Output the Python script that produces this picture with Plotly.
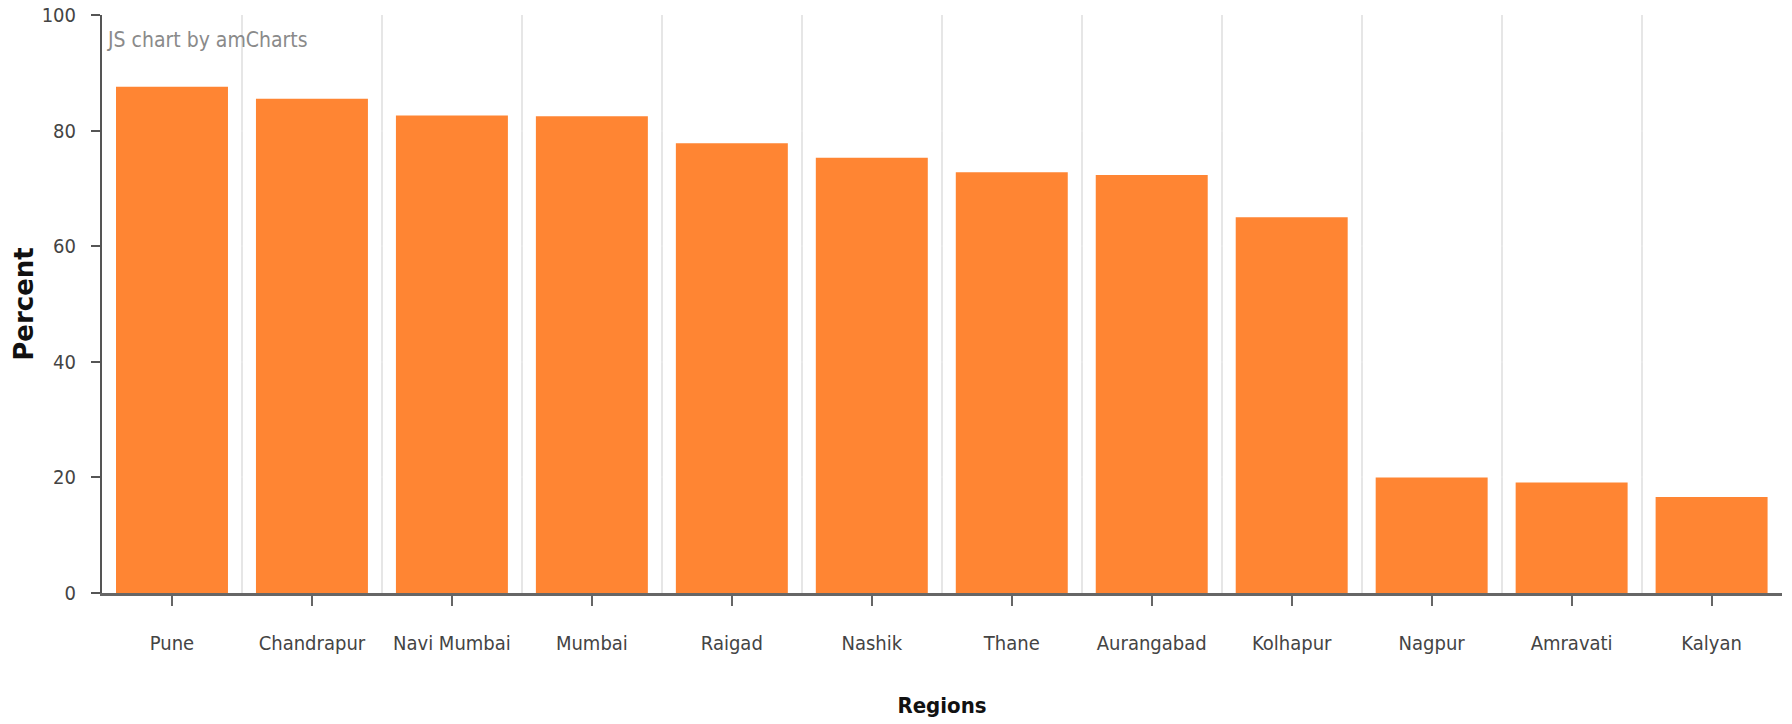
import plotly.graph_objects as go

regions = ["Pune", "Chandrapur", "Navi Mumbai", "Mumbai", "Raigad", "Nashik",
           "Thane", "Aurangabad", "Kolhapur", "Nagpur", "Amravati", "Kalyan"]
percent = [87.6, 85.5, 82.6, 82.5, 77.8, 75.3, 72.8, 72.3, 65.0, 20.0, 19.1, 16.6]
y_ticks = [0, 20, 40, 60, 80, 100]

idx = list(range(len(regions)))

fig = go.Figure()
fig.add_trace(go.Bar(
    x=idx, y=percent, width=0.8,
    marker=dict(color="rgb(255,133,51)", line=dict(width=0)),
    hovertext=regions, hoverinfo="text+y",
))

fig.update_layout(
    width=1792, height=724,
    margin=dict(l=102, r=10, t=15, b=131),
    paper_bgcolor="white", plot_bgcolor="white",
    showlegend=False,
    bargap=0.2,
    font=dict(family="DejaVu Sans Condensed", size=18, color="#444"),
)

fig.update_xaxes(
    automargin=False,
    range=[-0.5, len(regions) - 0.5 + 0.003],
    tickmode="array", tickvals=idx, ticktext=regions,
    ticks="outside", ticklen=10, tickwidth=2, tickcolor="#666",
    tickfont=dict(family="DejaVu Sans Condensed", size=20, color="#444"),
    ticklabelstandoff=20,
    showline=True, linecolor="#666", linewidth=3,
    showgrid=False, zeroline=False,
    minor=dict(tick0=0.5, dtick=1, showgrid=True, gridcolor="#e6e6e6", gridwidth=2, ticks=""),
    title=dict(text="Regions", standoff=44,
               font=dict(family="DejaVu Sans Condensed", size=22, color="#111", weight="bold")),
)

fig.update_yaxes(
    automargin=False,
    range=[0, 100], tickmode="array", tickvals=y_ticks,
    ticks="outside", ticklen=9, tickwidth=2, tickcolor="#555",
    tickfont=dict(family="DejaVu Sans Condensed", size=20, color="#444"),
    ticklabelstandoff=11, ticklabeloverflow="allow",
    showline=True, linecolor="#555", linewidth=2,
    showgrid=True, gridcolor="rgba(255,255,255,0.14)", gridwidth=2,
    zeroline=False, layer="above traces",
    title=dict(text="Percent", standoff=1,
               font=dict(family="DejaVu Sans", size=26, color="#111", weight="bold")),
)

fig.add_annotation(
    text="JS chart by amCharts", xref="paper", yref="paper",
    x=3 / 1680, y=1 - 25 / 578, xanchor="left", yanchor="middle", showarrow=False,
    font=dict(family="DejaVu Sans Condensed", size=21, color="#8a8a8a"),
)

# remove the browser's default body margin so the figure fills the window exactly
fig.write_html("out.html", config={"displayModeBar": False},
               post_script="document.body.style.margin='0';")
